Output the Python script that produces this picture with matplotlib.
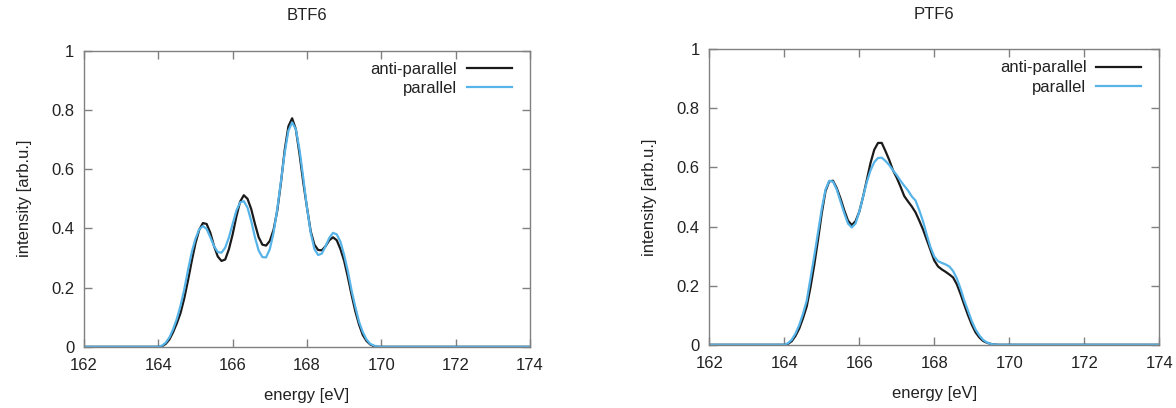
import matplotlib.pyplot as plt
import numpy as np

plt.rcParams['font.family'] = ['Liberation Sans', 'DejaVu Sans']

# energy grid (eV), 0.1 eV steps across the peak region
energy = [162.0] + [round(164.0 + 0.1 * i, 1) for i in range(61)] + [174.0]

btf6_anti = [0.0,
    0.0, 0.002, 0.01, 0.025, 0.05, 0.08, 0.115, 0.165, 0.225, 0.29,
    0.35, 0.395, 0.418, 0.415, 0.385, 0.34, 0.305, 0.29, 0.295, 0.33,
    0.38, 0.44, 0.49, 0.512, 0.50, 0.465, 0.415, 0.37, 0.345, 0.342,
    0.358, 0.395, 0.46, 0.555, 0.665, 0.745, 0.772, 0.735, 0.65, 0.555,
    0.47, 0.39, 0.345, 0.327, 0.326, 0.34, 0.36, 0.37, 0.36, 0.33,
    0.29, 0.235, 0.175, 0.12, 0.075, 0.04, 0.02, 0.008, 0.002, 0.0,
    0.0,
    0.0]
btf6_par = [0.0,
    0.0, 0.004, 0.014, 0.032, 0.06, 0.095, 0.14, 0.195, 0.26, 0.32,
    0.365, 0.397, 0.408, 0.398, 0.37, 0.34, 0.32, 0.318, 0.335, 0.37,
    0.415, 0.46, 0.488, 0.492, 0.47, 0.425, 0.37, 0.325, 0.303, 0.302,
    0.33, 0.385, 0.465, 0.56, 0.655, 0.73, 0.758, 0.735, 0.665, 0.57,
    0.47, 0.385, 0.33, 0.31, 0.315, 0.34, 0.368, 0.385, 0.38, 0.355,
    0.31, 0.255, 0.19, 0.135, 0.085, 0.05, 0.025, 0.01, 0.004, 0.001,
    0.0,
    0.0]
ptf6_anti = [0.0,
    0.0, 0.003, 0.012, 0.03, 0.055, 0.09, 0.13, 0.195, 0.27, 0.355,
    0.445, 0.52, 0.553, 0.555, 0.53, 0.495, 0.455, 0.42, 0.405, 0.418,
    0.45, 0.50, 0.557, 0.615, 0.66, 0.683, 0.683, 0.655, 0.625, 0.59,
    0.565, 0.535, 0.503, 0.485, 0.468, 0.448, 0.42, 0.39, 0.355, 0.32,
    0.285, 0.265, 0.255, 0.247, 0.238, 0.228, 0.205, 0.172, 0.135, 0.1,
    0.068, 0.042, 0.025, 0.013, 0.007, 0.003, 0.001, 0.0, 0.0, 0.0,
    0.0,
    0.0]
ptf6_par = [0.0,
    0.0, 0.005, 0.017, 0.038, 0.067, 0.105, 0.15, 0.225, 0.30, 0.38,
    0.46, 0.525, 0.555, 0.552, 0.525, 0.485, 0.445, 0.41, 0.397, 0.41,
    0.45, 0.50, 0.55, 0.59, 0.618, 0.632, 0.633, 0.622, 0.608, 0.59,
    0.574, 0.555, 0.538, 0.522, 0.502, 0.488, 0.455, 0.418, 0.372, 0.33,
    0.298, 0.283, 0.277, 0.272, 0.265, 0.25, 0.225, 0.19, 0.15, 0.115,
    0.08, 0.052, 0.032, 0.017, 0.008, 0.003, 0.001, 0.0, 0.0, 0.0,
    0.0,
    0.0]

titles = ['BTF6', 'PTF6']
series = [(btf6_anti, btf6_par), (ptf6_anti, ptf6_par)]
xticks = [162, 164, 166, 168, 170, 172, 174]
yticks = [0, 0.2, 0.4, 0.6, 0.8, 1]
ytick_labels = ['0', '0.2', '0.4', '0.6', '0.8', '1']

fig = plt.figure(figsize=(11.76, 4.08), dpi=100)
boxes = [[0.0714, 0.150, 0.3793, 0.7255], [0.6031, 0.155, 0.3827, 0.7243]]

for box, title, (anti, par) in zip(boxes, titles, series):
    ax = fig.add_axes(box)
    ax.plot(energy, anti, color='#1a1a1a', lw=1.6, label='anti-parallel',
            solid_joinstyle='round')
    ax.plot(energy, par, color='#56b4e9', lw=1.6, label='parallel',
            solid_joinstyle='round')
    ax.set_xlim(162, 174)
    ax.set_ylim(0, 1)
    ax.set_xticks(xticks)
    ax.set_yticks(yticks)
    ax.set_yticklabels(ytick_labels)
    ax.tick_params(direction='in', length=6, width=1, color='#808080',
                   top=True, right=True, labelsize=12, labelcolor='#222222')
    ax.tick_params(axis='y', pad=7)
    ax.tick_params(axis='x', pad=8)
    for s in ax.spines.values():
        s.set_color('#808080')
        s.set_linewidth(1)
    ax.set_title(title, fontsize=12, pad=22, color='#222222')
    ax.set_xlabel('energy [eV]', fontsize=12, labelpad=11, color='#222222')
    ax.set_ylabel('intensity [arb.u.]', fontsize=12, labelpad=14, color='#222222')
    ax.legend(loc='upper right', frameon=False, markerfirst=False,
              fontsize=12, handlelength=2.7, handletextpad=0.6,
              labelspacing=0.25, borderaxespad=0.0,
              bbox_to_anchor=(0.975, 0.985), labelcolor='#222222')

fig.savefig('out.png', dpi=100)
